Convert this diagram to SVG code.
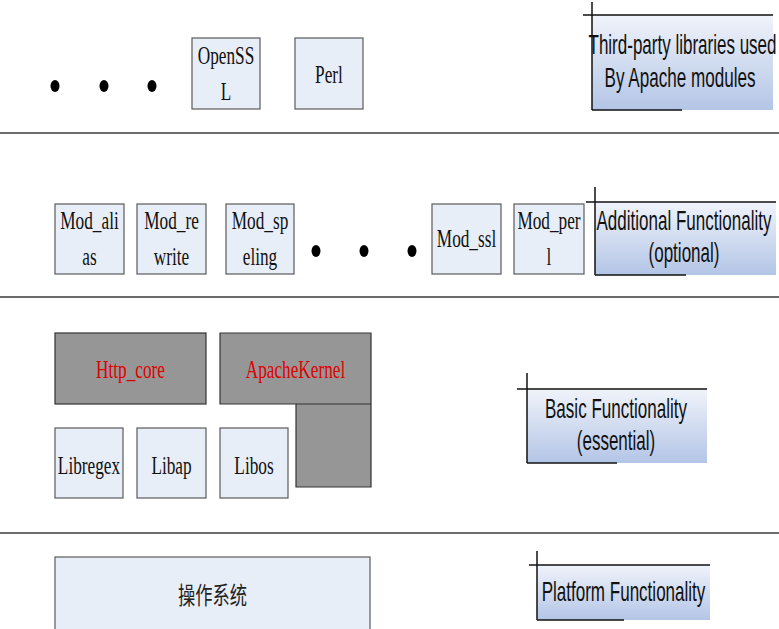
<svg xmlns="http://www.w3.org/2000/svg" width="779" height="629" viewBox="0 0 779 629">
<defs>
<linearGradient id="lg" x1="0" y1="0" x2="0" y2="1">
<stop offset="0" stop-color="#f0f3fa"/>
<stop offset="1" stop-color="#b3c5e6"/>
</linearGradient>
<style>
.bx{fill:#e8eef8;stroke:#5a5a5a;stroke-width:1.2}
.dk{fill:#969696;stroke:#333;stroke-width:1.2}
text{text-anchor:middle}
.t{font-family:"Liberation Serif","Times New Roman",serif;font-size:25px;fill:#111}
.r{fill:#e00000}
.s{font-family:"Liberation Sans",Arial,sans-serif;font-size:28px;fill:#111}
.c{font-family:"Noto Sans CJK SC","Noto Sans CJK JP",sans-serif;font-size:24px;fill:#222}
.lf{fill:url(#lg)}
.ln{stroke:#111;stroke-width:1.5;fill:none}
.dv{stroke:#3a3a3a;stroke-width:1.5}
.dot{fill:#000}
</style>
</defs>
<rect width="779" height="629" fill="#fff"/>
<g id="dividers">
<line class="dv" x1="0" y1="133" x2="779" y2="133"/>
<line class="dv" x1="0" y1="297" x2="779" y2="297"/>
<line class="dv" x1="0" y1="533" x2="779" y2="533"/>
</g>
<g id="dots-top">
<ellipse class="dot" cx="55" cy="86" rx="4.5" ry="6"/>
<ellipse class="dot" cx="104" cy="86" rx="4.5" ry="6"/>
<ellipse class="dot" cx="152" cy="86" rx="4.5" ry="6"/>
</g>
<g id="openssl"><rect class="bx" x="192" y="38" width="68" height="71"/>
<text class="t" x="226" y="64" textLength="56.5" lengthAdjust="spacingAndGlyphs">OpenSS</text>
<text class="t" x="226" y="100" textLength="10.5" lengthAdjust="spacingAndGlyphs">L</text></g>
<g id="perl"><rect class="bx" x="295" y="38" width="68" height="71"/>
<text class="t" x="329" y="83" textLength="27.8" lengthAdjust="spacingAndGlyphs">Perl</text></g>
<g id="label-third">
<rect class="lf" x="592" y="15" width="181" height="95"/>
<line class="ln" x1="592" y1="2" x2="592" y2="110"/>
<line class="ln" x1="583" y1="15" x2="773" y2="15"/>
<line class="ln" x1="592" y1="110" x2="682" y2="110"/>
<text class="s" x="682.5" y="54" textLength="188" lengthAdjust="spacingAndGlyphs">Third-party libraries used</text>
<text class="s" x="680" y="87" textLength="151" lengthAdjust="spacingAndGlyphs">By Apache modules</text>
</g>
<g id="mod_alias"><rect class="bx" x="55" y="204" width="69" height="70"/>
<text class="t" x="89.5" y="229" textLength="58.5" lengthAdjust="spacingAndGlyphs">Mod_ali</text>
<text class="t" x="89.5" y="265" textLength="14.4" lengthAdjust="spacingAndGlyphs">as</text></g>
<g id="mod_rewrite"><rect class="bx" x="137" y="204" width="69" height="70"/>
<text class="t" x="171.5" y="229" textLength="54.6" lengthAdjust="spacingAndGlyphs">Mod_re</text>
<text class="t" x="171.5" y="265" textLength="35.4" lengthAdjust="spacingAndGlyphs">write</text></g>
<g id="mod_speling"><rect class="bx" x="226" y="204" width="68" height="70"/>
<text class="t" x="260" y="229" textLength="56.5" lengthAdjust="spacingAndGlyphs">Mod_sp</text>
<text class="t" x="260" y="265" textLength="34.5" lengthAdjust="spacingAndGlyphs">eling</text></g>
<g id="dots-mid">
<ellipse class="dot" cx="316" cy="251" rx="4.5" ry="6"/>
<ellipse class="dot" cx="364" cy="251" rx="4.5" ry="6"/>
<ellipse class="dot" cx="412" cy="251" rx="4.5" ry="6"/>
</g>
<g id="mod_ssl"><rect class="bx" x="432" y="204" width="69" height="70"/>
<text class="t" x="466.5" y="247" textLength="59.4" lengthAdjust="spacingAndGlyphs">Mod_ssl</text></g>
<g id="mod_perl"><rect class="bx" x="514" y="204" width="70" height="70"/>
<text class="t" x="549" y="229" textLength="63.2" lengthAdjust="spacingAndGlyphs">Mod_per</text>
<text class="t" x="549" y="265" textLength="4.8" lengthAdjust="spacingAndGlyphs">l</text></g>
<g id="label-additional">
<rect class="lf" x="595" y="202" width="181" height="73"/>
<line class="ln" x1="595" y1="187" x2="595" y2="275"/>
<line class="ln" x1="586" y1="202" x2="776" y2="202"/>
<line class="ln" x1="595" y1="275" x2="686" y2="275"/>
<text class="s" x="684" y="230" textLength="175" lengthAdjust="spacingAndGlyphs">Additional Functionality</text>
<text class="s" x="684" y="262" textLength="71" lengthAdjust="spacingAndGlyphs">(optional)</text>
</g>
<g id="http_core"><rect class="dk" x="55" y="333" width="151" height="71"/>
<text class="t r" x="130.5" y="378" textLength="69" lengthAdjust="spacingAndGlyphs">Http_core</text></g>
<g id="apachekernel">
<path class="dk" d="M220 333H371V487H296V404H220Z"/>
<line x1="296" y1="404" x2="371" y2="404" stroke="#333" stroke-width="1.2"/>
<text class="t r" x="295.5" y="378" textLength="99.6" lengthAdjust="spacingAndGlyphs">ApacheKernel</text></g>
<g id="libregex"><rect class="bx" x="55" y="428" width="68" height="70"/>
<text class="t" x="89" y="474" textLength="62.3" lengthAdjust="spacingAndGlyphs">Libregex</text></g>
<g id="libap"><rect class="bx" x="137" y="428" width="69" height="70"/>
<text class="t" x="171.5" y="474" textLength="40.2" lengthAdjust="spacingAndGlyphs">Libap</text></g>
<g id="libos"><rect class="bx" x="220" y="428" width="68" height="70"/>
<text class="t" x="254" y="474" textLength="39.3" lengthAdjust="spacingAndGlyphs">Libos</text></g>
<g id="label-basic">
<rect class="lf" x="527" y="389" width="180" height="74"/>
<line class="ln" x1="527" y1="373" x2="527" y2="463"/>
<line class="ln" x1="517" y1="389" x2="707" y2="389"/>
<line class="ln" x1="527" y1="463" x2="617" y2="463"/>
<text class="s" x="616" y="418" textLength="142" lengthAdjust="spacingAndGlyphs">Basic Functionality</text>
<text class="s" x="616" y="450" textLength="78.5" lengthAdjust="spacingAndGlyphs">(essential)</text>
</g>
<g id="os"><rect class="bx" x="55" y="557" width="315" height="75"/>
<text class="c" x="212.5" y="604" textLength="69" lengthAdjust="spacingAndGlyphs">操作系统</text></g>
<g id="label-platform">
<rect class="lf" x="537" y="565" width="173" height="55"/>
<line class="ln" x1="537" y1="551" x2="537" y2="620"/>
<line class="ln" x1="529" y1="565" x2="710" y2="565"/>
<line class="ln" x1="537" y1="620" x2="624" y2="620"/>
<text class="s" x="623.5" y="601" textLength="163.7" lengthAdjust="spacingAndGlyphs">Platform Functionality</text>
</g>
<g id="connectors"/>
</svg>
